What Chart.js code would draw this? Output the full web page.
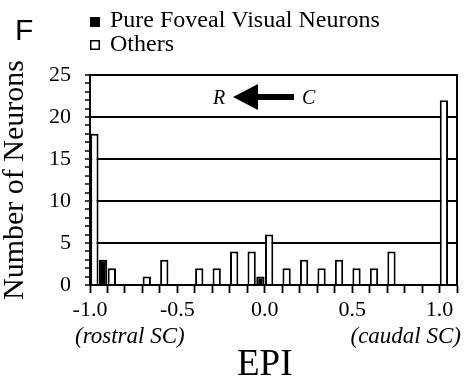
<!DOCTYPE html>
<html>
<head>
<meta charset="utf-8">
<script src="https://cdn.jsdelivr.net/npm/chart.js@4"></script>
<style>
  body { margin: 0; background: #fff; }
  canvas { display: block; }
</style>
</head>
<body>
<canvas id="epiChart" width="473" height="377"></canvas>
<script>
// EPI histogram, bins of 0.1 (left edge of each bin)
const binStarts = [-1.0, -0.9, -0.8, -0.7, -0.6, -0.5, -0.4, -0.3, -0.2, -0.1,
  0.0, 0.1, 0.2, 0.3, 0.4, 0.5, 0.6, 0.7, 0.8, 0.9, 1.0];
const others = [18, 2, 0, 1, 3, 0, 2, 2, 4, 4, 6, 2, 3, 2, 3, 2, 2, 4, 0, 0, 22];
const pureFoveal = [3, 0, 0, 0, 0, 0, 0, 0, 0, 1, 0, 0, 0, 0, 0, 0, 0, 0, 0, 0, 0];
const xTickLabels = ["-1.0", "-0.5", "0.0", "0.5", "1.0"];
const yTickLabels = ["0", "5", "10", "15", "20", "25"];

const SERIF = '"Liberation Serif", "Times New Roman", serif';
const SANS = '"Liberation Sans", Arial, sans-serif';

Chart.defaults.font.family = SERIF;
Chart.defaults.color = "#000";

const toPoints = (counts) => binStarts.map((b, i) => ({ x: b + 0.05, y: counts[i] }));

const fmtX = (v) => (Math.abs(v) < 1e-9 ? "0.0" : v.toFixed(1));

// extra text: panel letter, legend, R <- C arrow, axis end notes, EPI
const annotations = {
  id: "annotations",
  afterDraw(chart) {
    const ctx = chart.ctx;
    const x = chart.scales.x;
    ctx.save();
    ctx.fillStyle = "#000";
    ctx.strokeStyle = "#000";

    ctx.font = "30px " + SANS;
    ctx.textBaseline = "alphabetic";
    ctx.textAlign = "left";
    ctx.fillText("F", 15, 40);

    ctx.font = "24px " + SERIF;
    ctx.fillRect(90, 17, 10, 10);
    ctx.fillText("Pure Foveal Visual Neurons", 110, 27);
    ctx.lineWidth = 1.5;
    ctx.strokeRect(90.75, 40.75, 8.5, 8.5);
    ctx.fillText("Others", 110, 51);

    ctx.font = "italic 20px " + SERIF;
    ctx.textBaseline = "middle";
    ctx.fillText("R", 213, 99);
    ctx.fillText("C", 302, 99);
    ctx.beginPath();
    ctx.moveTo(233, 97);
    ctx.lineTo(258, 84);
    ctx.lineTo(258, 94);
    ctx.lineTo(294, 94);
    ctx.lineTo(294, 100);
    ctx.lineTo(258, 100);
    ctx.lineTo(258, 110);
    ctx.closePath();
    ctx.fill();

    ctx.font = "italic 23px " + SERIF;
    ctx.textBaseline = "alphabetic";
    ctx.fillText("(rostral SC)", 75, 343);
    ctx.textAlign = "right";
    ctx.fillText("(caudal SC)", 461, 343);

    ctx.font = "37px " + SERIF;
    ctx.textAlign = "center";
    ctx.fillText("EPI", x.getPixelForValue(0), 375);
    ctx.restore();
  }
};

new Chart(document.getElementById("epiChart"), {
  type: "bar",
  data: {
    datasets: [
      {
        label: "Others",
        data: toPoints(others),
        backgroundColor: "#fff",
        borderColor: "#000",
        borderWidth: 2,
        categoryPercentage: 1,
        barPercentage: 0.95,
      },
      {
        label: "Pure Foveal Visual Neurons",
        data: toPoints(pureFoveal),
        backgroundColor: "#000",
        borderColor: "#000",
        borderWidth: 2,
        categoryPercentage: 1,
        barPercentage: 0.95,
      },
    ],
  },
  options: {
    responsive: false,
    devicePixelRatio: 1,
    animation: false,
    layout: { padding: { top: 75, right: 16, left: 0, bottom: 0 } },
    plugins: {
      legend: { display: false },
      tooltip: { enabled: false },
    },
    scales: {
      x: {
        type: "linear",
        min: -1.0,
        max: 1.1,
        offset: false,
        z: 1,
        ticks: {
          stepSize: 0.1,
          autoSkip: false,
          maxRotation: 0,
          padding: 4,
          font: { size: 22 },
          callback: (v) => (xTickLabels.includes(fmtX(v)) ? fmtX(v) : ""),
        },
        grid: {
          offset: false,
          drawOnChartArea: false,
          tickLength: 8,
          tickColor: "#000",
          tickWidth: 1.8,
        },
        border: { color: "#000", width: 2 },
        afterFit: (scale) => { scale.height = 92; },
      },
      y: {
        min: 0,
        max: 25,
        ticks: {
          stepSize: 1,
          autoSkip: false,
          padding: 14,
          font: { size: 22 },
          callback: (v) => (yTickLabels.includes(String(v)) ? String(v) : ""),
        },
        grid: {
          color: (c) => (c.tick && c.tick.value % 5 === 0 ? "#000" : "rgba(0,0,0,0)"),
          lineWidth: 2,
          tickColor: "#000",
          tickWidth: 1.5,
          tickLength: 5,
        },
        border: { color: "#000", width: 2 },
        title: {
          display: true,
          text: "Number of Neurons",
          font: { size: 30, lineHeight: 1 },
          padding: 0,
        },
        afterFit: (scale) => { scale.width = 90; },
      },
      yRight: {
        position: "right",
        min: 0,
        max: 25,
        z: 1,
        ticks: { display: false },
        grid: { drawOnChartArea: false, drawTicks: false },
        border: { color: "#000", width: 2 },
        afterFit: (scale) => { scale.width = 0; },
      },
    },
  },
  plugins: [annotations],
});
</script>
</body>
</html>
